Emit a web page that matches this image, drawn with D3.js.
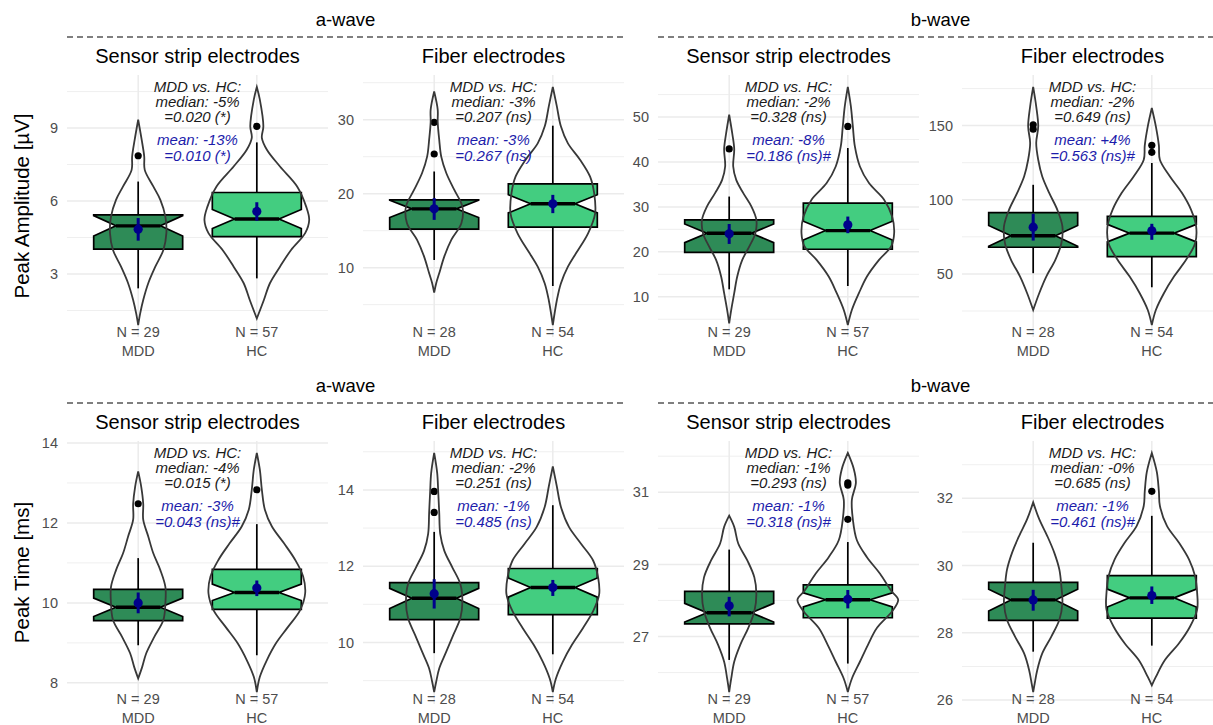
<!DOCTYPE html>
<html><head><meta charset="utf-8">
<script src="https://cdn.jsdelivr.net/npm/d3@7"></script>
<style>body{margin:0;background:#fff} svg{display:block}</style>
</head><body>
<svg id="chart" width="1213" height="725"></svg>
<script>
// ---------------- DATA ----------------
const groups = ["MDD", "HC"];
const waveTitles = ["a-wave", "b-wave"];
const yTitles = ["Peak Amplitude [µV]", "Peak Time [ms]"];
const panelTitles = ["Sensor strip electrodes", "Fiber electrodes", "Sensor strip electrodes", "Fiber electrodes",
                     "Sensor strip electrodes", "Fiber electrodes", "Sensor strip electrodes", "Fiber electrodes"];
const groupN = [[29, 57], [28, 54], [29, 57], [28, 54], [29, 57], [28, 54], [29, 57], [28, 54]];
const yTicks = [[3, 6, 9], [10, 20, 30], [10, 20, 30, 40, 50], [50, 100, 150],
                [8, 10, 12, 14], [10, 12, 14], [27, 29, 31], [26, 28, 30, 32]];

const q1 = [[4.02, 4.54], [15.20, 15.47], [19.9, 20.58], [68.0, 61.7], [9.555, 9.84], [10.60, 10.73], [27.35, 27.52], [28.37, 28.44]];
const medians = [[4.98, 5.26], [17.95, 18.63], [24.15, 24.73], [75.7, 77.5], [9.89, 10.26], [11.16, 11.44], [27.66, 28.02], [28.98, 29.04]];
const q3 = [[5.43, 6.35], [19.17, 21.33], [27.1, 30.83], [91.4, 88.75], [10.34, 10.84], [11.57, 11.94], [28.25, 28.43], [29.50, 29.70]];
const notchLo = [[4.56, 4.87], [16.78, 17.40], [22.05, 22.62], [68.7, 71.6], [9.66, 10.06], [10.89, 11.19], [27.40, 27.82], [28.65, 28.77]];
const notchHi = [[5.40, 5.65], [19.12, 19.86], [26.2, 26.82], [82.7, 83.4], [10.12, 10.47], [11.42, 11.69], [27.92, 28.21], [29.30, 29.30]];
const whiskLo = [[2.41, 2.82], [11.04, 7.52], [11.66, 12.4], [50.5, 41.0], [8.94, 8.69], [9.72, 9.69], [26.35, 26.25], [27.44, 27.62]];
const whiskHi = [[6.80, 8.41], [23.0, 29.19], [32.3, 43.1], [110.1, 124.8], [11.12, 11.97], [12.90, 13.60], [29.41, 29.62], [30.68, 31.48]];
const outliers = [[[7.86], [9.07]], [[29.64, 25.36], []], [[42.9], [47.9]], [[150.6, 147.6], [136.7, 132.0]],
                  [[12.48], [12.83]], [[13.96, 13.41], []], [[], [31.26, 31.2, 30.25]], [[], [32.21]]];
const means = [[4.84, 5.57], [17.95, 18.63], [24.0, 26.0], [81.5, 79.05], [10.0, 10.37], [11.28, 11.44], [27.85, 28.03], [28.98, 29.11]];
const meanLo = [[4.37, 5.19], [16.46, 17.37], [21.76, 24.15], [72.5, 73.0], [9.74, 10.17], [10.89, 11.22], [27.56, 27.78], [28.66, 28.86]];
const meanHi = [[5.30, 5.95], [19.40, 19.84], [26.2, 27.85], [90.5, 83.8], [10.26, 10.56], [11.66, 11.64], [28.1, 28.29], [29.28, 29.38]];

// violin profiles: [value, relative density]
const violinMDD = [
  [[9.34,0],[8.51,3.5],[7.83,6],[7.28,6.5],[6.60,15],[6.05,22],[5.36,27],[4.68,28],[3.99,25],[3.30,17],[2.62,10],[1.93,5],[1.38,2],[0.90,0]],
  [[33.8,0],[31.35,3.5],[29.64,3.5],[27.3,5],[25.0,7],[22.8,12],[20.5,20],[18.26,28],[16.0,27],[13.75,17],[11.5,10],[9.24,5],[7.9,2],[6.62,0]],
  [[50.5,0],[46.4,3],[42.9,5],[39.0,4],[36.0,7],[33.06,14],[30.1,22],[27.1,27],[24.15,26],[21.2,20],[18.2,13],[14.5,8],[10.8,5],[7.05,2],[4.1,0]],
  [[176.1,0],[163,3],[149.5,5],[138.3,3],[127,5],[115.7,9],[104.5,16],[93.2,24],[82.0,29],[70.7,28],[59.5,22],[48.2,13],[37.0,6],[25.7,0]],
  [[13.29,0],[12.91,3],[12.48,5],[12.08,5],[11.66,10],[11.24,15],[10.82,22],[10.4,27],[9.99,27],[9.57,25],[9.15,16],[8.74,8],[8.4,4],[8.11,0]],
  [[14.97,0],[14.44,3],[13.96,4],[13.41,5],[12.85,6],[12.41,10],[11.97,18],[11.53,26],[11.09,28],[10.64,26],[10.2,19],[9.76,12],[9.32,5],[8.97,2],[8.70,0]],
  [[30.35,0],[30.04,5],[29.58,9],[29.11,18],[28.64,25],[28.17,27],[27.7,25],[27.24,19],[26.77,11],[26.3,5],[25.83,2],[25.46,0]],
  [[31.88,0],[31.38,6],[30.88,14],[30.38,21],[29.88,26],[29.38,28],[28.89,29],[28.39,26],[27.89,18],[27.39,9],[26.89,4],[26.49,1.5],[26.24,0]]
];
const violinHC = [
  [[10.69,0],[10.17,3],[9.07,6.5],[8.6,5],[8.11,10],[7.42,23],[6.60,40],[5.77,49],[5.22,52],[4.68,48],[3.99,34],[3.30,23],[2.62,13],[1.93,7],[1.17,0]],
  [[34.43,0],[31.8,4],[29.1,8],[26.8,15],[24.6,27],[22.3,37],[20.1,41],[17.35,42],[14.65,35],[11.94,23],[10.13,15],[7.87,8],[5.6,4],[2.24,0]],
  [[56.7,0],[52.4,3],[47.9,5],[43.45,7],[39.0,12],[35.3,21],[31.6,36],[27.85,44],[24.15,46],[21.2,43],[18.2,31],[14.5,19],[10.8,11],[7.05,4],[3.7,0]],
  [[161.9,0],[149.5,4],[136.7,7],[127,8],[115.7,18],[104.5,30],[93.2,39],[82.0,44],[70.7,43],[59.5,34],[48.2,22],[37.0,12],[25.7,4],[15.5,0]],
  [[13.75,0],[13.33,3],[12.83,5],[12.33,8],[11.91,15],[11.49,27],[11.08,38],[10.66,46],[10.24,48],[9.82,43],[9.40,31],[8.99,19],[8.57,10],[8.15,3],[7.77,0]],
  [[14.62,0],[14.09,4],[13.56,8],[13.03,16],[12.59,28],[12.15,40],[11.7,45],[11.26,46],[10.82,40],[10.38,30],[9.94,19],[9.5,10],[9.05,3],[8.70,0]],
  [[32.09,0],[31.64,6],[31.26,8],[30.79,4],[30.25,5],[29.67,9],[29.2,19],[28.74,32],[28.27,43],[28.02,50],[27.7,44],[27.24,29],[26.77,20],[26.3,12],[25.83,4],[25.46,0]],
  [[33.35,0],[32.78,5],[32.21,7],[31.78,8],[31.18,15],[30.68,27],[30.18,37],[29.68,43],[29.19,45],[28.69,45],[28.19,38],[27.69,27],[27.19,13],[26.69,4],[26.44,0]]
];

const medianDiff = ["-5%", "-3%", "-2%", "-2%", "-4%", "-2%", "-1%", "-0%"];
const medianP = ["=0.020 (*)", "=0.207 (ns)", "=0.328 (ns)", "=0.649 (ns)", "=0.015 (*)", "=0.251 (ns)", "=0.293 (ns)", "=0.685 (ns)"];
const meanDiff = ["-13%", "-3%", "-8%", "+4%", "-3%", "-1%", "-1%", "-1%"];
const meanP = ["=0.010 (*)", "=0.267 (ns)", "=0.186 (ns)#", "=0.563 (ns)#", "=0.043 (ns)#", "=0.485 (ns)", "=0.318 (ns)#", "=0.461 (ns)#"];

// ---------------- LAYOUT / STYLE ----------------
const FONT = "'Liberation Sans', Arial, Helvetica, sans-serif";
const fills = ["#2E8B57", "#43CD80"];
const colLeft = [67, 363, 658, 962];
const panelW = 261;
const rowTop = [75, 441];
const rowBottom = [337, 704];
const svg = d3.select("#chart");

// headers
[0, 1].forEach(row => {
  waveTitles.forEach((wt, w) => {
    const x0 = colLeft[2 * w], x1 = colLeft[2 * w + 1] + panelW;
    svg.append("text").attr("x", (x0 + x1) / 2).attr("y", rowTop[row] - 49)
      .attr("text-anchor", "middle").attr("font-family", FONT).attr("font-size", 18.5).attr("fill", "#000").text(wt);
    svg.append("line").attr("x1", x0).attr("x2", x1).attr("y1", rowTop[row] - 38).attr("y2", rowTop[row] - 38)
      .attr("stroke", "#000").attr("stroke-width", 1.1).attr("stroke-dasharray", "6,4");
  });
  svg.append("text")
    .attr("transform", `translate(29,${(rowTop[row] + rowBottom[row]) / 2}) rotate(-90)`)
    .attr("text-anchor", "middle").attr("font-family", FONT).attr("font-size", 20.5).attr("fill", "#000")
    .text(yTitles[row]);
});

panelTitles.forEach((title, i) => {
  const row = Math.floor(i / 4), col = i % 4;
  const left = colLeft[col], top = rowTop[row], bottom = rowBottom[row];
  const x = d3.scalePoint().domain(groups).range([left, left + panelW]).padding(0.6);
  const step = x.step();
  const violins = [violinMDD[i], violinHC[i]];
  const ext = d3.extent(violins.flat(), d => d[0]);
  const pad = (ext[1] - ext[0]) * 0.05;
  const y = d3.scaleLinear().domain([ext[0] - pad, ext[1] + pad]).range([bottom, top]);
  const wScale = d3.scaleLinear().domain([0, 53]).range([0, 0.45 * step]);
  const g = svg.append("g");

  // grid
  const ticks = yTicks[i];
  const ts = ticks[1] - ticks[0];
  const [d0, d1] = y.domain();
  const minors = d3.range(Math.floor((d0 - ticks[0]) / ts) - 1, Math.ceil((d1 - ticks[0]) / ts) + 1)
    .map(k => ticks[0] + ts * (k + 0.5)).filter(v => v >= d0 && v <= d1);
  g.selectAll(".minor").data(minors).join("line")
    .attr("x1", left).attr("x2", left + panelW).attr("y1", d => y(d)).attr("y2", d => y(d))
    .attr("stroke", "#ededed").attr("stroke-width", 0.9);
  g.selectAll(".major").data(ticks).join("line")
    .attr("x1", left).attr("x2", left + panelW).attr("y1", d => y(d)).attr("y2", d => y(d))
    .attr("stroke", "#ebebeb").attr("stroke-width", 1.5);
  g.selectAll(".vgrid").data(groups).join("line")
    .attr("x1", d => x(d)).attr("x2", d => x(d)).attr("y1", top).attr("y2", bottom)
    .attr("stroke", "#ebebeb").attr("stroke-width", 1.5);

  // y axis labels
  g.append("g").attr("transform", `translate(${left},0)`)
    .call(d3.axisLeft(y).tickValues(ticks).tickFormat(d3.format("~g")).tickSize(0).tickPadding(9))
    .call(a => a.select(".domain").remove())
    .selectAll("text").attr("font-size", 14.5).attr("fill", "#4d4d4d").attr("font-family", FONT);

  // x labels
  groups.forEach((grp, j) => {
    g.append("text").attr("x", x(grp)).attr("y", bottom).attr("text-anchor", "middle")
      .attr("font-family", FONT).attr("font-size", 14.5).attr("fill", "#4d4d4d").text(`N = ${groupN[i][j]}`);
    g.append("text").attr("x", x(grp)).attr("y", bottom + 19).attr("text-anchor", "middle")
      .attr("font-family", FONT).attr("font-size", 14.5).attr("fill", "#4d4d4d").text(grp);
  });

  // panel title
  g.append("text").attr("x", left + panelW / 2).attr("y", top - 12).attr("text-anchor", "middle")
    .attr("font-family", FONT).attr("font-size", 20).attr("fill", "#000").text(title);

  // boxplots
  groups.forEach((grp, j) => {
    const cx = x(grp), bw = 0.75 * step, xmin = cx - bw / 2, xmax = cx + bw / 2, ni = 0.5 * bw / 2;
    g.append("line").attr("x1", cx).attr("x2", cx).attr("y1", y(q3[i][j])).attr("y2", y(whiskHi[i][j]))
      .attr("stroke", "#000").attr("stroke-width", 1.7);
    g.append("line").attr("x1", cx).attr("x2", cx).attr("y1", y(q1[i][j])).attr("y2", y(whiskLo[i][j]))
      .attr("stroke", "#000").attr("stroke-width", 1.7);
    g.selectAll(null).data(outliers[i][j]).join("circle")
      .attr("cx", cx).attr("cy", d => y(d)).attr("r", 3.6).attr("fill", "#000");
    const pts = [
      [xmin, q3[i][j]], [xmin, notchHi[i][j]], [xmin + ni, medians[i][j]], [xmin, notchLo[i][j]], [xmin, q1[i][j]],
      [xmax, q1[i][j]], [xmax, notchLo[i][j]], [xmax - ni, medians[i][j]], [xmax, notchHi[i][j]], [xmax, q3[i][j]]
    ];
    g.append("path").attr("d", d3.line().x(d => d[0]).y(d => y(d[1]))(pts) + "Z")
      .attr("fill", fills[j]).attr("stroke", "#000").attr("stroke-width", 1.7).attr("stroke-linejoin", "miter");
    g.append("line").attr("x1", xmin + ni).attr("x2", xmax - ni).attr("y1", y(medians[i][j])).attr("y2", y(medians[i][j]))
      .attr("stroke", "#000").attr("stroke-width", 3.4);
  });

  // violins (outline only, on top of boxes)
  groups.forEach((grp, j) => {
    const cx = x(grp);
    const area = d3.area().curve(d3.curveCatmullRom.alpha(0.5))
      .y(d => y(d[0])).x0(d => cx - wScale(d[1])).x1(d => cx + wScale(d[1]));
    g.append("path").attr("d", area(violins[j])).attr("fill", "none")
      .attr("stroke", "#383838").attr("stroke-width", 1.8);
  });

  // mean ± CI
  groups.forEach((grp, j) => {
    const cx = x(grp);
    g.append("line").attr("x1", cx).attr("x2", cx).attr("y1", y(meanLo[i][j])).attr("y2", y(meanHi[i][j]))
      .attr("stroke", "#00008B").attr("stroke-width", 3);
    g.append("circle").attr("cx", cx).attr("cy", y(means[i][j])).attr("r", 4.6).attr("fill", "#00008B");
  });

  // annotation
  const ax = left + panelW / 2;
  const lines = [
    ["MDD vs. HC:", 16.8, "#1a1a1a"], [`median: ${medianDiff[i]}`, 32.1, "#1a1a1a"], [medianP[i], 47.4, "#1a1a1a"],
    [`mean: ${meanDiff[i]}`, 70.2, "#1c1cab"], [meanP[i], 85.5, "#1c1cab"]
  ];
  lines.forEach(([t, dy, c]) => {
    g.append("text").attr("x", ax).attr("y", top + dy).attr("text-anchor", "middle")
      .attr("font-family", FONT).attr("font-size", 15).attr("font-style", "italic").attr("fill", c).text(t);
  });
});
</script></body></html>
